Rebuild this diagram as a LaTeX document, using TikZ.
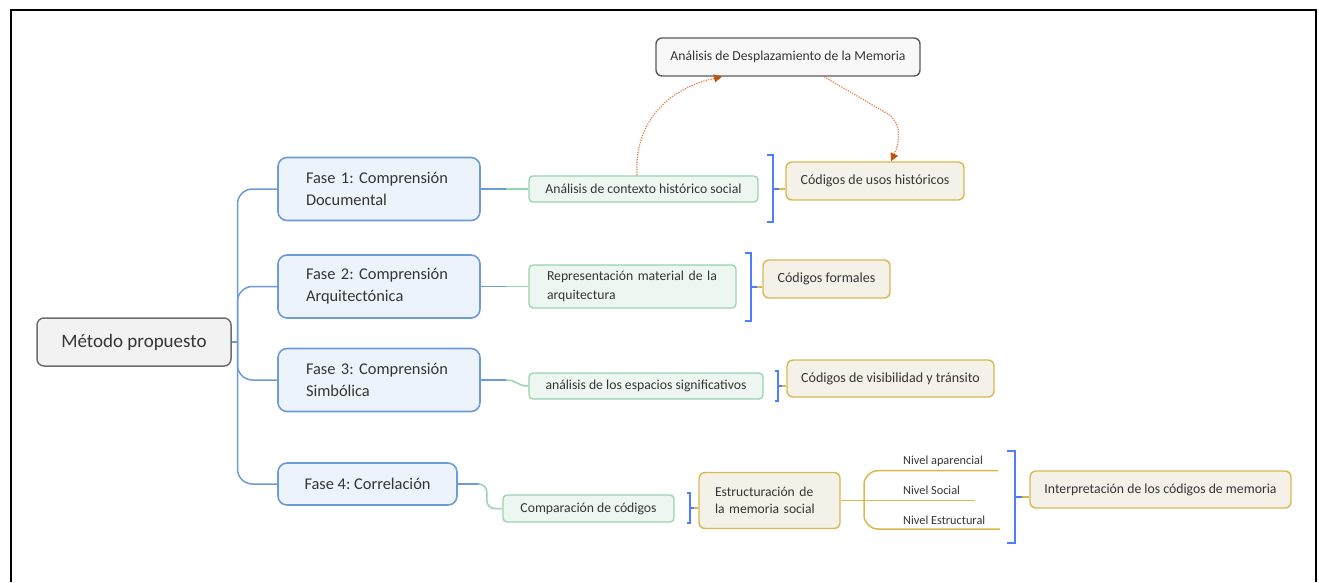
\documentclass[tikz,border=0pt]{standalone}
\usepackage{fontspec}
\setmainfont{Carlito}
\usetikzlibrary{arrows.meta,calc}
\definecolor{txt}{HTML}{353535}
\definecolor{grayb}{HTML}{6E6E6E}
\definecolor{grayf}{HTML}{F2F2F2}
\definecolor{topb}{HTML}{5A5A5A}
\definecolor{topf}{HTML}{F8F8F8}
\definecolor{blueb}{HTML}{6C9BD6}
\definecolor{bluef}{HTML}{EDF3FB}
\definecolor{greenb}{HTML}{97D4AF}
\definecolor{greenf}{HTML}{EEF6F1}
\definecolor{goldb}{HTML}{D9B850}
\definecolor{goldf}{HTML}{F3F1E8}
\definecolor{brk}{HTML}{4F7DFF}
\definecolor{dotc}{HTML}{E27B45}
\definecolor{tipc}{HTML}{C0530F}
\tikzset{
  rootbox/.style={draw=grayb, fill=grayf, line width=1.5pt, rounded corners=7pt, text=txt,
    font=\fontsize{19}{23}\selectfont, minimum width=194pt, minimum height=48pt, inner sep=0pt},
  topbox/.style={draw=topb, fill=topf, line width=1.4pt, rounded corners=6pt, text=txt,
    font=\fontsize{13.7}{17}\selectfont, minimum width=264pt, minimum height=38pt, inner sep=0pt},
  fasebox/.style={draw=blueb, fill=bluef, line width=1.6pt, rounded corners=9pt, text=txt,
    font=\fontsize{16.4}{22}\selectfont, minimum height=63pt, inner ysep=0pt},
  greenbox/.style={draw=greenb, fill=greenf, line width=1.3pt, rounded corners=4pt, text=txt,
    font=\fontsize{13.7}{18.5}\selectfont, inner ysep=0pt, inner xsep=0pt},
  goldbox/.style={draw=goldb, fill=goldf, line width=1.4pt, rounded corners=6pt, text=txt,
    font=\fontsize{14}{17.3}\selectfont, inner ysep=0pt, inner xsep=0pt},
  blueline/.style={draw=blueb, line width=1.5pt},
  greenline/.style={draw=greenb, line width=1.5pt},
  goldline/.style={draw=goldb, line width=1.5pt},
  bracket/.style={draw=brk, line width=1.4pt},
  dotarrow/.style={draw=dotc, line width=1.2pt, dash pattern=on 1.2pt off 1.3pt,
    -{Triangle[length=8pt,width=8pt,color=tipc]}},
  lbl/.style={text=txt, font=\fontsize{12.3}{14}\selectfont, inner sep=0pt, anchor=west},
}
\begin{document}
\frenchspacing
\begin{tikzpicture}[x=1pt,y=-1pt]
\useasboundingbox (0,0) rectangle (1319,582);
% frame
\draw[line width=2pt, black] (10.5,582) -- (10.5,10) -- (1315.5,10) -- (1315.5,582);

% nodes
\node[rootbox] (met) at (134,342) {Método propuesto};
\node[topbox] (des) at (788,57) {Análisis de Desplazamiento de la Memoria};

\node[fasebox, text width=146pt, inner xsep=28pt, align=left] (f1) at (379,189) {Fase 1: Comprensión\\Documental};
\node[fasebox, text width=146pt, inner xsep=28pt, align=left] (f2) at (379,286.5) {Fase 2: Comprensión\\Arquitectónica};
\node[fasebox, text width=146pt, inner xsep=28pt, align=left] (f3) at (379,380) {Fase 3: Comprensión\\Simbólica};
\node[fasebox, minimum width=179pt, minimum height=42pt, inner xsep=0pt] (f4) at (367.5,484) {Fase 4: Correlación};

\node[greenbox, minimum width=229pt, minimum height=26pt] (g1) at (643.5,189) {Análisis de contexto histórico social};
\node[greenbox, text width=171pt, inner xsep=18pt, minimum height=43pt, align=left] (g2) at (632.5,286.5) {Representación material de la\\arquitectura};
\node[greenbox, minimum width=234pt, minimum height=26pt] (g3) at (646,386) {análisis de los espacios significativos};
\node[greenbox, minimum width=171pt, minimum height=27pt] (g4) at (588.5,508.5) {Comparación de códigos};

\node[goldbox, minimum width=178pt, minimum height=38pt] (y1) at (875,181) {Códigos de usos históricos};
\node[goldbox, minimum width=127pt, minimum height=38pt] (y2) at (826.5,279) {Códigos formales};
\node[goldbox, minimum width=207pt, minimum height=37pt] (y3) at (890.5,378.5) {Códigos de visibilidad y tránsito};
\node[goldbox, text width=109pt, inner xsep=16pt, minimum height=56pt, align=left, font=\fontsize{13.6}{17.3}\selectfont] (y4) at (769.5,500.5) {Estructuración de\\la memoria social};
\node[goldbox, minimum width=261pt, minimum height=37pt, font=\fontsize{13.75}{17}\selectfont] (y5) at (1160.5,489.5) {Interpretación de los códigos de memoria};

\node[lbl] (n1) at (903,461.7) {Nivel aparencial};
\node[lbl] (n2) at (903,490.7) {Nivel Social};
\node[lbl] (n3) at (903,520) {Nivel Estructural};

% trunk
\draw[blueline] (met.east) -- (237.5,342) coordinate (tr);
\draw[blueline, rounded corners=15pt] (tr) |- (f1.west);
\draw[blueline, rounded corners=15pt] (tr) |- (f2.west);
\draw[blueline, rounded corners=15pt] (tr) |- (f3.west);
\draw[blueline, rounded corners=15pt] (tr) |- (f4.west);

% phase -> green
\draw[blueline] (f1.east) -- ++(25,0) coordinate (j1);
\draw[greenline] (j1) -- (g1.west);
\draw[blueline] (f2.east) -- ++(25,0) coordinate (j2);
\draw[greenline] (j2) -- (g2.west);
\draw[blueline] (f3.east) -- ++(25,0) coordinate (j3);
\draw[greenline] (j3) .. controls +(12,0) and +(-12,0) .. (g3.west);
\draw[blueline] (f4.east) -- ++(21,0) coordinate (j4);
\draw[greenline, rounded corners=8pt] (j4) -- ++(8,0) |- (g4.west);

% brackets
\draw[bracket] (767,155) -- (773,155) -- (773,222) -- (767,222);
\draw[bracket] (773,189) -- (779,189) coordinate (k1);
\draw[goldline] (k1) -- (y1.west |- k1);

\draw[bracket] (745,253) -- (751,253) -- (751,321) -- (745,321);
\draw[bracket] (751,287) -- (757,287) coordinate (k2);
\draw[goldline] (k2) -- (y2.west |- k2);

\draw[bracket] (775,371) -- (778,371) -- (778,401) -- (775,401);
\draw[bracket] (778,386) -- (782,386) coordinate (k3);
\draw[goldline] (k3) -- (y3.west |- k3);

\draw[bracket] (687,493) -- (690,493) -- (690,523) -- (687,523);
\draw[bracket] (690,508) -- (694,508) coordinate (k4);
\draw[goldline] (k4) -- (y4.west |- k4);

\draw[bracket] (1007,451) -- (1015,451) -- (1015,543) -- (1007,543);
\draw[bracket] (1015,497) -- (1022,497) coordinate (k5);
\draw[goldline] (k5) -- (y5.west |- k5);

% levels fork
\coordinate (fk) at (864,500.5);
\coordinate (e1) at (998,470.7);
\coordinate (e2) at (975,500.5);
\coordinate (e3) at (1000,529);
\draw[goldline] (y4.east) -- (e2);
\draw[goldline, rounded corners=14pt] (e1) -| (fk) |- (e3);

% dotted arrows
\draw[dotarrow] ([xshift=-6.5pt]g1.north) .. controls (634,120) and (670,88) .. ([xshift=-66pt]des.south);
\draw[dotarrow] ([xshift=36pt]des.south) -- (888,114) .. controls (902,123) and (900,142) .. ([xshift=16pt]y1.north);
\end{tikzpicture}
\end{document}
